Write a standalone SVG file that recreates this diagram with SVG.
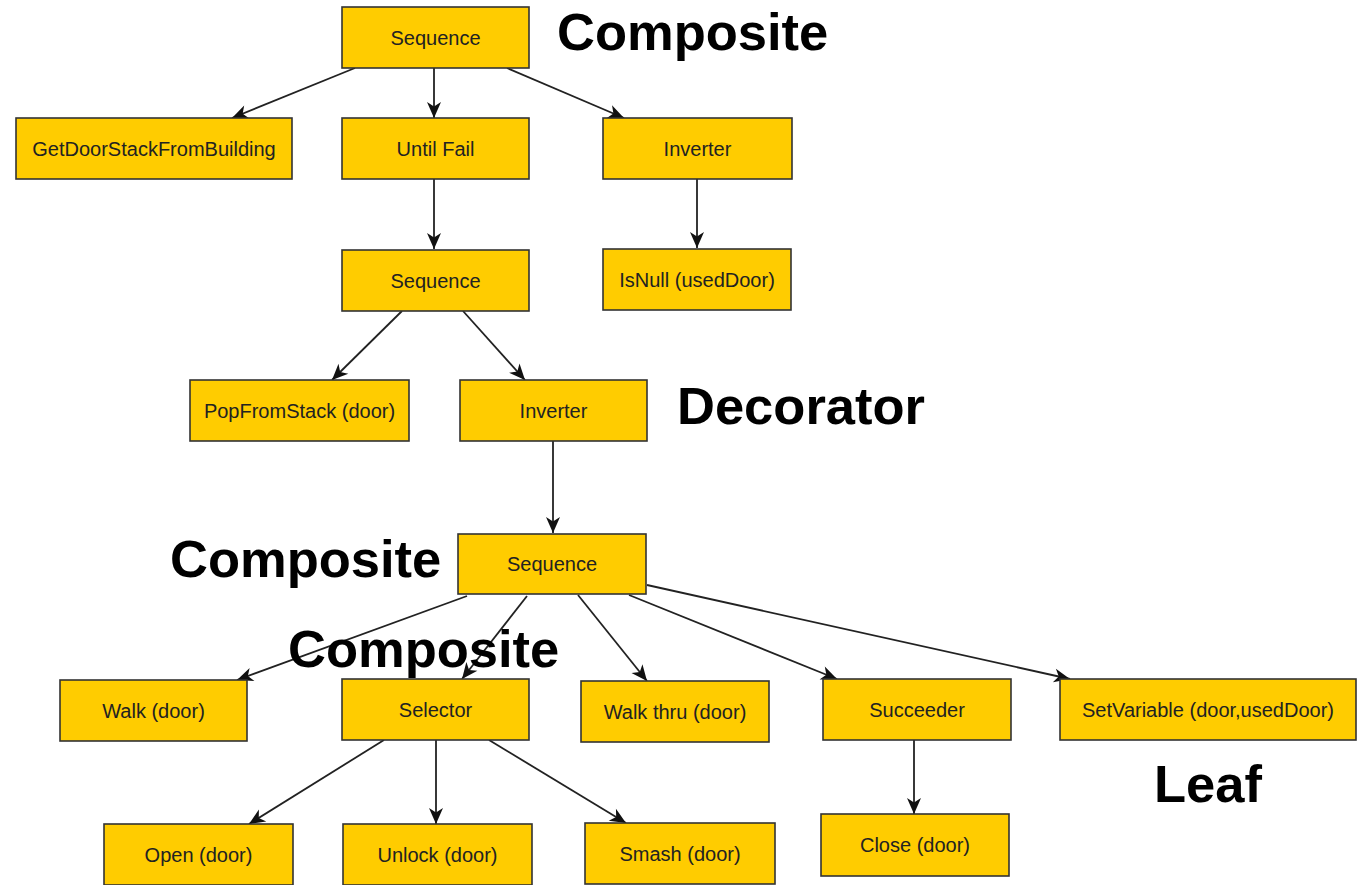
<svg xmlns="http://www.w3.org/2000/svg" width="1368" height="885" viewBox="0 0 1368 885">
<style>
.box{fill:#FFCC00;stroke:#333;stroke-width:1.6}
.t{font-family:"Liberation Sans",Arial,sans-serif;font-size:20px;fill:#222;text-anchor:middle}
.big{font-family:"Liberation Sans",Arial,sans-serif;font-size:52.5px;font-weight:bold;fill:#000}
.c{stroke:#222;stroke-width:1.8;fill:none;marker-end:url(#ah)}
</style>
<defs>
<marker id="ah" markerUnits="userSpaceOnUse" markerWidth="17" markerHeight="15" refX="16" refY="7" orient="auto" overflow="visible">
<path d="M0,0 L16,7 L0,14 L4.5,7 z" fill="#111"/>
</marker>
</defs>
<rect width="1368" height="885" fill="#fff"/>
<g id="connectors">
<line class="c" x1="355" y1="68" x2="232" y2="118"/>
<line class="c" x1="434" y1="68" x2="434" y2="118"/>
<line class="c" x1="507" y1="68" x2="624" y2="118"/>
<line class="c" x1="434" y1="179" x2="434" y2="249"/>
<line class="c" x1="697" y1="179" x2="697" y2="248"/>
<line class="c" x1="402" y1="311" x2="332" y2="380"/>
<line class="c" x1="463" y1="311" x2="525" y2="380"/>
<line class="c" x1="553" y1="441" x2="553" y2="533"/>
<line class="c" x1="467" y1="596" x2="237" y2="680"/>
<line class="c" x1="527" y1="596" x2="462" y2="679"/>
<line class="c" x1="578" y1="595" x2="647" y2="681"/>
<line class="c" x1="629" y1="595" x2="837" y2="679"/>
<line class="c" x1="647" y1="585" x2="1070" y2="679"/>
<line class="c" x1="384" y1="740" x2="249" y2="824"/>
<line class="c" x1="436" y1="740" x2="436" y2="824"/>
<line class="c" x1="489" y1="740" x2="626" y2="823"/>
<line class="c" x1="914" y1="740" x2="914" y2="814"/>
</g>
<g id="seq1"><rect class="box" x="342" y="7" width="187" height="61"/><text class="t" x="435.5" y="44.5">Sequence</text></g>
<g id="getdoor"><rect class="box" x="16" y="118" width="276" height="61"/><text class="t" x="154" y="155.5">GetDoorStackFromBuilding</text></g>
<g id="untilfail"><rect class="box" x="342" y="118" width="187" height="61"/><text class="t" x="435.5" y="155.5">Until Fail</text></g>
<g id="inv1"><rect class="box" x="603" y="118" width="189" height="61"/><text class="t" x="697.5" y="155.5">Inverter</text></g>
<g id="seq2"><rect class="box" x="342" y="250" width="187" height="61"/><text class="t" x="435.5" y="287.5">Sequence</text></g>
<g id="isnull"><rect class="box" x="603" y="249" width="188" height="61"/><text class="t" x="697" y="286.5">IsNull (usedDoor)</text></g>
<g id="pop"><rect class="box" x="190" y="380" width="219" height="61"/><text class="t" x="299.5" y="417.5">PopFromStack (door)</text></g>
<g id="inv2"><rect class="box" x="460" y="380" width="187" height="61"/><text class="t" x="553.5" y="417.5">Inverter</text></g>
<g id="seq3"><rect class="box" x="458" y="534" width="188" height="60"/><text class="t" x="552" y="571">Sequence</text></g>
<g id="walk"><rect class="box" x="60" y="680" width="187" height="61"/><text class="t" x="153.5" y="717.5">Walk (door)</text></g>
<g id="selector"><rect class="box" x="342" y="679" width="187" height="61"/><text class="t" x="435.5" y="716.5">Selector</text></g>
<g id="walkthru"><rect class="box" x="581" y="681" width="188" height="61"/><text class="t" x="675" y="718.5">Walk thru (door)</text></g>
<g id="succeeder"><rect class="box" x="823" y="679" width="188" height="61"/><text class="t" x="917" y="716.5">Succeeder</text></g>
<g id="setvar"><rect class="box" x="1060" y="679" width="296" height="61"/><text class="t" x="1208" y="716.5">SetVariable (door,usedDoor)</text></g>
<g id="open"><rect class="box" x="104" y="824" width="189" height="61"/><text class="t" x="198.5" y="861.5">Open (door)</text></g>
<g id="unlock"><rect class="box" x="343" y="824" width="189" height="61"/><text class="t" x="437.5" y="861.5">Unlock (door)</text></g>
<g id="smash"><rect class="box" x="585" y="823" width="190" height="61"/><text class="t" x="680" y="860.5">Smash (door)</text></g>
<g id="close"><rect class="box" x="821" y="814" width="188" height="62"/><text class="t" x="915" y="851.5">Close (door)</text></g>
<g id="labels">
<text class="big" x="557" y="50">Composite</text>
<text class="big" x="677" y="424">Decorator</text>
<text class="big" x="170" y="577">Composite</text>
<text class="big" x="288" y="667">Composite</text>
<text class="big" x="1154" y="802">Leaf</text>
</g>
</svg>
